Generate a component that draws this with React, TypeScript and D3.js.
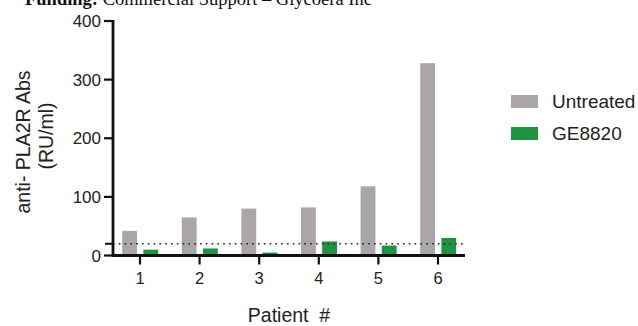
import React from "react";
import * as d3 from "d3";

const patients = ["1", "2", "3", "4", "5", "6"];
const seriesNames = ["Untreated", "GE8820"];
const untreated = [42, 65, 80, 82, 118, 328];
const ge8820 = [10, 12, 5, 24, 17, 30];
const yTicks = [0, 100, 200, 300, 400];
const threshold = 20;
const colors = ["#a9a5a8", "#1f9440"];

const W = 638;
const H = 326;
const axisX = 113;
const axisEndX = 465;
const y0 = 255.5;
const yTop = 21;

export default function App() {
  const x = d3.scaleBand<string>().domain(patients).range([110.2, 467.8]).padding(0);
  const inner = d3.scaleBand<string>().domain(seriesNames).range([12, 48]).paddingInner(0.3);
  const y = d3.scaleLinear().domain([0, 400]).range([y0, yTop]);
  const data = [untreated, ge8820];
  const sans = "'Liberation Sans', Arial, sans-serif";

  return (
    <svg
      width={W}
      height={H}
      style={{ position: "absolute", left: 0, top: 0, background: "#fff" }}
    >
      <text x={25} y={5} fontFamily="'Liberation Serif', 'Times New Roman', serif" fontSize={18.5} fill="#111">
        <tspan fontWeight="bold">Funding:</tspan>
        <tspan> Commercial Support – Glycoera Inc</tspan>
      </text>

      {/* bars */}
      {data.map((vals, si) =>
        vals.map((v, i) => (
          <rect
            key={`${si}-${i}`}
            x={(x(patients[i]) as number) + (inner(seriesNames[si]) as number)}
            y={y(v)}
            width={inner.bandwidth()}
            height={y0 - y(v)}
            fill={colors[si]}
          />
        ))
      )}

      {/* threshold dotted line */}
      <line
        x1={axisX}
        x2={axisEndX}
        y1={y(threshold)}
        y2={y(threshold)}
        stroke="#222"
        strokeWidth={1.6}
        strokeDasharray="1.6,4.2"
      />
      <line x1={axisX - 8} x2={axisX} y1={y(threshold)} y2={y(threshold)} stroke="#111" strokeWidth={2} />

      {/* y axis */}
      <line x1={axisX} x2={axisX} y1={yTop - 1} y2={y0 + 1.5} stroke="#111" strokeWidth={2.8} />
      {yTicks.map((t) => (
        <g key={t}>
          <line x1={axisX - 9} x2={axisX} y1={y(t)} y2={y(t)} stroke="#111" strokeWidth={2.2} />
          <text
            x={axisX - 12}
            y={y(t)}
            dy="0.36em"
            textAnchor="end"
            fontFamily={sans}
            fontSize={17}
            fill="#222"
          >
            {t}
          </text>
        </g>
      ))}

      {/* x axis */}
      <line x1={axisX} x2={axisEndX} y1={y0} y2={y0} stroke="#111" strokeWidth={2.8} />
      {patients.map((p) => {
        const cx = (x(p) as number) + x.bandwidth() / 2;
        return (
          <g key={p}>
            <line x1={cx} x2={cx} y1={y0} y2={y0 + 9} stroke="#111" strokeWidth={2.2} />
            <text x={cx} y={y0 + 28} textAnchor="middle" fontFamily={sans} fontSize={16.5} fill="#222">
              {p}
            </text>
          </g>
        );
      })}

      {/* axis titles */}
      <text
        transform={`translate(${(axisX + axisEndX) / 2 - 0}, 322)`}
        textAnchor="middle"
        fontFamily={sans}
        fontSize={19.5}
        fill="#222"
        style={{ whiteSpace: "pre" }}
      >
        {"Patient  #"}
      </text>
      <text
        transform="translate(30, 142) rotate(-90)"
        textAnchor="middle"
        fontFamily={sans}
        fontSize={19.5}
        fill="#222"
      >
        anti- PLA2R Abs
      </text>
      <text
        transform="translate(53, 136) rotate(-90)"
        textAnchor="middle"
        fontFamily={sans}
        fontSize={19.5}
        fill="#222"
      >
        (RU/ml)
      </text>

      {/* legend */}
      {seriesNames.map((s, i) => (
        <g key={s} transform={`translate(511, ${95 + i * 32})`}>
          <rect x={0} y={0} width={27} height={13} fill={colors[i]} />
          <text x={41} y={6.5} dy="0.36em" fontFamily={sans} fontSize={19} fill="#222">
            {s}
          </text>
        </g>
      ))}
    </svg>
  );
}
